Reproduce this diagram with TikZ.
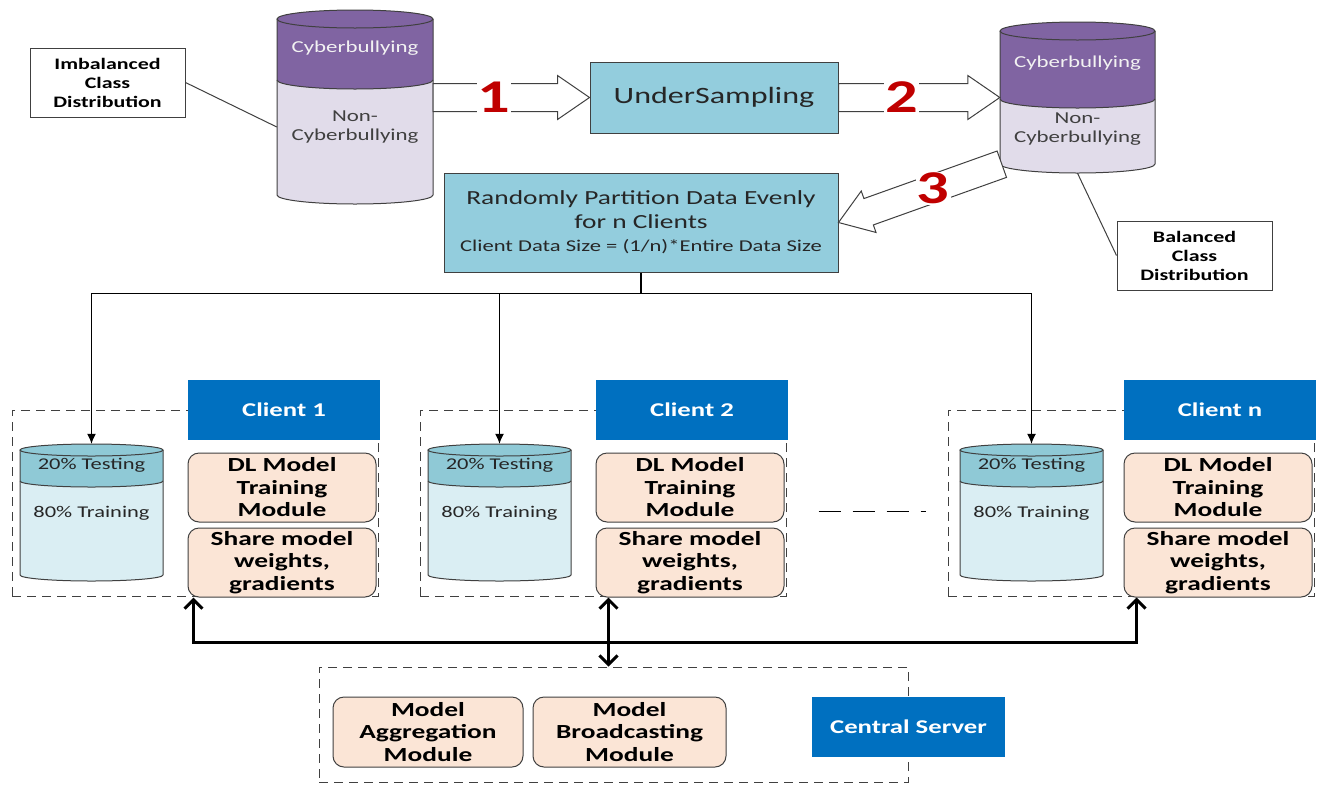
\documentclass[tikz,border=0pt]{standalone}
\usepackage{fontspec}
\setmainfont{Carlito}[FakeStretch=1.37]
\usetikzlibrary{arrows.meta,calc,fit}

\definecolor{cbpurple}{HTML}{8064A2}
\definecolor{cblilac}{HTML}{E1DCEA}
\definecolor{aqua}{HTML}{93CDDD}
\definecolor{testteal}{HTML}{8FC9D6}
\definecolor{trainblue}{HTML}{DAEEF3}
\definecolor{clientblue}{HTML}{0070C0}
\definecolor{peach}{HTML}{FBE5D6}
\definecolor{numred}{HTML}{C00000}
\definecolor{edge}{HTML}{404040}

\newcommand\fs[2]{\fontsize{#1}{#2}\selectfont}

\tikzset{
  plainbox/.style={draw=edge, line width=1pt, fill=white, align=center, inner sep=0pt,
    font=\fs{16}{19}\bfseries, minimum width=155pt, minimum height=69pt},
  aquabox/.style={draw=edge, line width=1pt, fill=aqua, align=center, inner sep=0pt, text=black!85},
  clientlbl/.style={fill=clientblue, text=white, font=\fs{19.5}{22}\bfseries,
    minimum width=192pt, minimum height=60pt, inner sep=0pt},
  module/.style={draw=edge, line width=1pt, fill=peach, rounded corners=11pt, align=center,
    font=\fs{20}{22.5}\bfseries, minimum width=188pt, minimum height=69pt, inner sep=0pt},
  dashbox/.style={draw=edge, line width=0.9pt, dash pattern=on 9pt off 6pt, inner sep=0pt},
  thinline/.style={draw=edge, line width=1pt},
  feed/.style={draw=black, line width=1.1pt, -{Latex[length=10pt,width=9pt]}},
  bus/.style={draw=black, line width=3pt, line join=miter},
  barbs/.style={bus, {Straight Barb[length=9pt,width=18pt]}-{Straight Barb[length=9pt,width=18pt]}},
  blockarr/.style={draw=edge, line width=1pt, fill=white, line join=miter},
  num/.style={text=numred, font=\fs{47}{47}\bfseries, fill=white, inner sep=1pt},
  cyltxt/.style={font=\fs{16.7}{19}, align=center, inner sep=0pt},
  datatxt/.style={font=\fs{16.4}{19}, text=black!85, inner sep=0pt}
}

% database cylinder: #1 name, #2 left x, #3 right x, #4 y of top ellipse centre,
% #5 y of the band boundary, #6 y of bottom arc, #7 vertical radius,
% #8 upper colour, #9 lower colour
\newcommand\dbcyl[9]{%
  \pgfmathsetmacro\cylrx{(#3-#2)/2}%
  \pgfmathsetmacro\cylcx{(#3+#2)/2}%
  \fill[#9] (#2,#5) -- (#2,#6) arc[start angle=180,end angle=0,x radius=\cylrx,y radius=#7]
     -- (#3,#5) arc[start angle=0,end angle=180,x radius=\cylrx,y radius=#7] -- cycle;
  \fill[#8] (#2,#4) -- (#2,#5) arc[start angle=180,end angle=0,x radius=\cylrx,y radius=#7]
     -- (#3,#4) -- cycle;
  \filldraw[fill=#8, draw=edge, line width=1pt] (\cylcx,#4) ellipse[x radius=\cylrx, y radius=#7];
  \draw[edge, line width=1pt] (#2,#4) -- (#2,#6)
     arc[start angle=180,end angle=0,x radius=\cylrx,y radius=#7] -- (#3,#4);
  \draw[edge, line width=1pt] (#2,#5) arc[start angle=180,end angle=0,x radius=\cylrx,y radius=#7];
  \coordinate (#1nw) at (#2,#4-#7);
  \coordinate (#1se) at (#3,#6+#7);
  \node[inner sep=0pt, fit=(#1nw)(#1se)] (#1) {};
}

% hollow block arrow from #1 to #2; #3 prefixes the helper coordinate
\newcommand\blockarrow[3]{%
  \coordinate (#3h) at ($(#2)!32pt!(#1)$);
  \draw[blockarr] ($(#1)!14pt!90:(#2)$) -- ($(#3h)!14pt!90:(#2)$) -- ($(#3h)!22pt!90:(#2)$)
     -- (#2) -- ($(#3h)!22pt!-90:(#2)$) -- ($(#3h)!14pt!-90:(#2)$) -- ($(#1)!14pt!-90:(#2)$) -- cycle;
}

% one client: #1 suffix, #2 horizontal offset, #3 caption, #4 extra offset of the data store
\newcommand\clientgroup[4]{%
  \begin{scope}[xshift=#2pt]
    \node[dashbox, minimum width=366pt, minimum height=186pt] (grp#1) at (195,503) {};
    \node[clientlbl] (lbl#1) at (284,410) {#3};
    \begin{scope}[xshift=#4pt]
      \dbcyl{cyl#1}{20}{163}{450}{481}{575}{6}{testteal}{trainblue}
      \node[datatxt] at (91.5,465) {20\% Testing};
      \node[datatxt] at (91.5,513) {80\% Training};
    \end{scope}
    \node[module] (dl#1) at (282,487.5) {DL Model\\Training\\Module};
    \node[module] (sh#1) at (282,562.5) {Share model\\weights,\\gradients};
  \end{scope}%
}

\begin{document}
\begin{tikzpicture}[x=1pt, y=-1pt]
  \fill[white] (0,0) rectangle (1322,785);
  \useasboundingbox (0,0) rectangle (1322,785);

  % ---- data preparation ----
  \node[plainbox] (imb) at (107.5,82.5) {Imbalanced\\Class\\Distribution};
  \dbcyl{db1}{277}{433}{19}{80}{195}{9}{cbpurple}{cblilac}
  \node[cyltxt, text=white!95!black] at (355,48) {Cyberbullying};
  \node[cyltxt, text=black!75] at (355,127) {Non-\\Cyberbullying};

  \node[aquabox, minimum width=248pt, minimum height=71pt, font=\fs{23.4}{26}] (under) at (714,97.5) {UnderSampling};

  \dbcyl{db2}{1000}{1155}{31}{99}{164}{9}{cbpurple}{cblilac}
  \node[cyltxt, text=white!95!black] at (1077.5,63) {Cyberbullying};
  \node[cyltxt, text=black!75] at (1077.5,129) {Non-\\Cyberbullying};

  \node[plainbox] (bal) at (1194.5,255.5) {Balanced\\Class\\Distribution};

  \node[aquabox, minimum width=394pt, minimum height=99pt, font=\fs{20}{23.5}] (rand) at (641,222.5)
    {Randomly Partition Data Evenly\\for n Clients\\{\fs{16.5}{19}Client Data Size = (1/n)*Entire Data Size}};

  \draw[thinline] (imb.east) -- ($(db1.west)+(0,20)$);
  \draw[thinline] (db2.south) -- (bal.west);

  % numbered block arrows
  \coordinate (a1t) at (db1.east |- under.west);
  \blockarrow{a1t}{under.west}{ar1}
  \node[num] at ($(a1t)!0.39!(under.west)$) {1};

  \coordinate (a2h) at (db2.west |- under.east);
  \blockarrow{under.east}{a2h}{ar2}
  \node[num] at ($(under.east)!0.39!(a2h)$) {2};

  \coordinate (a3t) at ($(db2.south west)+(2,-9)$);
  \blockarrow{a3t}{rand.east}{ar3}
  \node[num] at ($(a3t)!0.42!(rand.east)$) {3};

  % ---- clients ----
  \clientgroup{1}{0}{Client 1}{0}
  \clientgroup{2}{408}{Client 2}{0}
  \clientgroup{n}{936}{Client n}{4}

  \coordinate (dotsA) at ($(dl2.east)+(34,24)$);
  \coordinate (dotsB) at ($(dotsA)+(107,0)$);
  \draw[line width=1.8pt, dash pattern=on 22pt off 12pt] (dotsA) -- (dotsB);

  % partition feeds
  \coordinate (split) at ($(rand.south)+(0,21)$);
  \draw[line width=1.1pt] (rand.south) -- (split);
  \draw[feed] (split) -| (cyl1.north);
  \draw[feed] (split) -| (cyl2.north);
  \draw[feed] (split) -| (cyln.north);

  % ---- central server ----
  \node[dashbox, minimum width=589pt, minimum height=115pt] (srv) at (613.5,724.5) {};
  \node[module, minimum width=190pt, minimum height=70pt] (agg) at (428,732) {Model\\Aggregation\\Module};
  \node[module, minimum width=193pt, minimum height=70pt] (bcast) at (629.5,732) {Model\\Broadcasting\\Module};
  \node[clientlbl, minimum width=193pt, minimum height=60pt] (central) at (908.5,727) {Central Server};

  % weight exchange bus
  \coordinate (busL) at ($(sh1.south west)+(6,45)$);
  \coordinate (busR) at ($(shn.south west)+(13,45)$);
  \coordinate (busM) at ($(sh2.south west)+(13,0)$);
  \draw[barbs] (busL |- sh1.south) -- (busL) -- (busR) -- (busR |- shn.south);
  \draw[barbs] (busM) -- (busM |- srv.north);
\end{tikzpicture}
\end{document}
